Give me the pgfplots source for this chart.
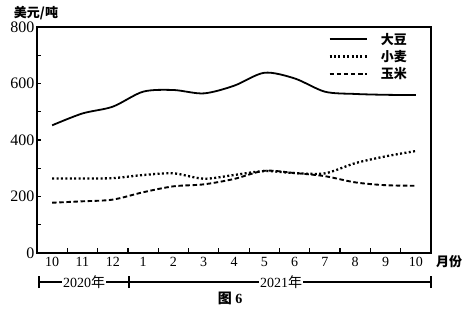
\documentclass[border=0pt]{standalone}
\usepackage{fontspec}
\setmainfont{Liberation Serif}
\newfontfamily\cjk{Noto Sans CJK SC}
\usepackage{pgfplots}
\pgfplotsset{compat=1.18}
\begin{document}
\begin{tikzpicture}[x=1pt,y=1pt]
\useasboundingbox (0,0) rectangle (462,310);
\begin{axis}[
  at={(37pt,57pt)}, anchor=south west,
  scale only axis, width=394pt, height=226pt,
  xmin=-0.5, xmax=12.5, ymin=0, ymax=800,
  axis line style={line width=1.5pt},
  tick style={line width=1.2pt, black},
  tick align=inside, tick pos=left,
  major tick length=4.5pt, minor tick length=4.5pt,
  xtick={0,...,12},
  xticklabels={10,11,12,1,2,3,4,5,6,7,8,9,10},
  major x tick style={draw=none},
  minor xtick={0.5,1.5,...,11.5},
  ytick={0,200,...,800},
  minor ytick={100,300,500,700},
  /pgf/number format/assume math mode=true,
  x tick label style={font=\fontsize{14}{16}\selectfont, yshift=-1pt},
  y tick label style={font=\fontsize{16}{18}\selectfont, xshift=1pt},
  legend style={font=\cjk\bfseries\fontsize{13}{15}\selectfont, draw=none, fill=none,
    at={(1,1)}, anchor=north east, xshift=-19pt, yshift=-2pt,
    row sep=0.5pt},
  legend cell align=left,
  legend image code/.code={\draw[#1] (0pt,0pt) -- (37pt,0pt); \path (48pt,0pt);},
]
\addplot[black, line width=1.8pt, smooth,
  legend image code/.code={\draw[black, line width=2pt] (0pt,0.5pt) -- (37pt,0.5pt); \path (48pt,0pt);}] coordinates {
 (0,452) (1,494) (2,518) (3,571) (4,577) (5,565) (6,592) (7,638) (8,618) (9,571) (10,563) (11,560) (12,559)};
\addlegendentry{大豆}
\addplot[black, line width=2.3pt, smooth, dash pattern=on 2pt off 2.4pt] coordinates {
 (0,264) (1,264) (2,265) (3,276) (4,282) (5,263) (6,276) (7,290) (8,283) (9,282) (10,318) (11,342) (12,361)};
\addlegendentry{小麦}
\addplot[black, line width=1.9pt, smooth, dash pattern=on 4.5pt off 2.6pt] coordinates {
 (0,178) (1,183) (2,189) (3,215) (4,236) (5,243) (6,262) (7,291) (8,283) (9,272) (10,250) (11,240) (12,238)};
\addlegendentry{玉米}
\end{axis}
\node[font=\cjk\bfseries\fontsize{13}{15}\selectfont] at (36,297) {美元/吨};
\node[font=\cjk\bfseries\fontsize{13}{15}\selectfont] at (449,48) {月份};
\draw[line width=1.2pt] (39,28) -- (431,28);
\draw[line width=1.2pt] (39,22) -- (39,34);
\draw[line width=1.2pt] (129,22) -- (129,34);
\draw[line width=1.2pt] (431,22) -- (431,34);
\node[fill=white, inner sep=1pt, font=\fontsize{14}{16}\selectfont] at (84,28) {2020{\cjk 年}};
\node[fill=white, inner sep=1pt, font=\fontsize{14}{16}\selectfont] at (281,28) {2021{\cjk 年}};
\node[font=\bfseries\fontsize{14}{16}\selectfont] at (230,12) {{\cjk\bfseries 图} 6};
\end{tikzpicture}
\end{document}
